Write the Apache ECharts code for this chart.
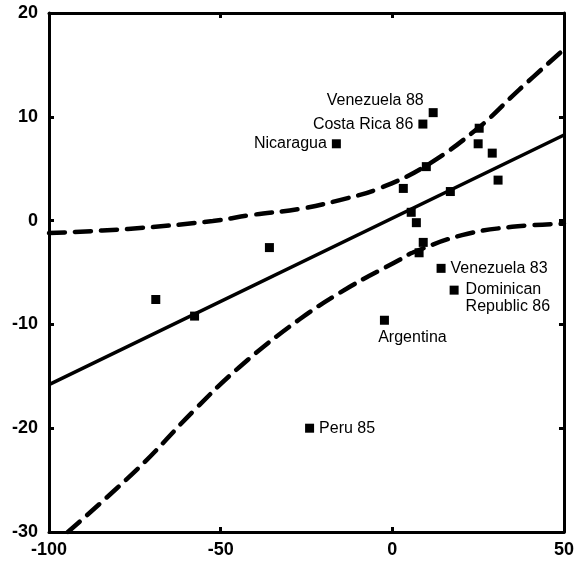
<!DOCTYPE html>
<html>
<head>
<meta charset="utf-8">
<script src="https://cdn.jsdelivr.net/npm/echarts@6/dist/echarts.min.js"></script>
<style>
html,body{margin:0;padding:0;background:#fff;}
#chart{width:577px;height:563px;}
</style>
</head>
<body>
<div id="chart"></div>
<script>
// Scatter points
const pointNames = ['Venezuela 88','Costa Rica 86','Nicaragua','','','','','','','','','','','','Venezuela 83','Dominican\nRepublic 86','Argentina','Peru 85','','',''];
const pointX = [11.9, 8.9, -16.3, 25.3, 25.0, 29.1, 30.8, 9.9, 3.2, 16.9, 5.5, 7.0, 9.0, 7.8, 14.2, 18.0, -2.3, -24.1, -68.9, -57.6, -35.8];
const pointY = [10.4, 9.3, 7.4, 8.9, 7.4, 6.5, 3.9, 5.2, 3.1, 2.8, 0.8, -0.2, -2.1, -3.1, -4.6, -6.7, -9.6, -20.0, -7.6, -9.2, -2.6];

// Regression line
const fitX = [-100, 50];
const fitY = [-15.8, 8.25];

// Upper confidence band
const upperX = [-100, -77, -52.3, -41, -27, -15, -3.8, 9.9, 25.3, 36.9, 50];
const upperY = [-1.2, -0.8, -0.04, 0.54, 1.12, 2.0, 3.1, 5.3, 9.0, 12.6, 16.5];

// Lower confidence band
const lowerX = [-94.5, -73.5, -58.1, -44.5, -27, -12.5, 2.0, 5.8, 20.3, 34.9, 50];
const lowerY = [-30, -23.7, -18.4, -14.1, -9.5, -6.4, -3.8, -3.1, -1.4, -0.6, -0.3];

// Axis ticks
const xTicks = { min: -100, max: 50, interval: 50 };
const yTicks = { min: -30, max: 20, interval: 10 };

const labelPlacement = {
  'Venezuela 88': { position: 'left', offset: [0, -12] },
  'Costa Rica 86': { position: 'left', offset: [0, 1] },
  'Nicaragua': { position: 'left', offset: [0, 0] },
  'Venezuela 83': { position: 'right', offset: [0, 0] },
  'Dominican\nRepublic 86': { position: 'right', offset: [2, 8] },
  'Argentina': { position: 'bottom', offset: [28, -1] },
  'Peru 85': { position: 'right', offset: [0, 0] }
};

const zip = (a, b) => a.map((v, i) => [v, b[i]]);

const scatterData = pointX.map((x, i) => {
  const name = pointNames[i];
  const item = { value: [x, pointY[i]], name: name };
  if (name) {
    const p = labelPlacement[name];
    item.label = { show: true, position: p.position, offset: p.offset, formatter: name };
  }
  return item;
});

const axisCommon = {
  type: 'value',
  axisLine: { show: true, onZero: false, lineStyle: { color: '#000', width: 3 } },
  axisTick: { show: true, inside: true, length: 5, lineStyle: { color: '#000', width: 3 } },
  splitLine: { show: false }
};

const tickLabel = { color: '#000', fontSize: 18, fontWeight: 'bold', fontFamily: 'Liberation Sans, Arial, sans-serif' };

const option = {
  animation: false,
  backgroundColor: '#fff',
  grid: { left: 49, right: 11, top: 13, bottom: 31 },
  xAxis: [
    Object.assign({}, axisCommon, xTicks, { position: 'bottom', axisLabel: Object.assign({ margin: 9 }, tickLabel) }),
    Object.assign({}, axisCommon, xTicks, { position: 'top', axisLabel: { show: false } })
  ],
  yAxis: [
    Object.assign({}, axisCommon, yTicks, { position: 'left', axisLabel: Object.assign({ margin: 11 }, tickLabel) }),
    Object.assign({}, axisCommon, yTicks, { position: 'right', axisLabel: { show: false } })
  ],
  series: [
    {
      type: 'line', data: zip(upperX, upperY), smooth: 0.4, symbol: 'none', clip: true,
      lineStyle: { color: '#000', width: 4.5, type: [16, 10], cap: 'round' }
    },
    {
      type: 'line', data: zip(lowerX, lowerY), smooth: 0.4, symbol: 'none', clip: true,
      lineStyle: { color: '#000', width: 4.5, type: [16, 10], cap: 'round' }
    },
    {
      type: 'line', data: zip(fitX, fitY), symbol: 'none', clip: true,
      lineStyle: { color: '#000', width: 3.5 }
    },
    {
      type: 'scatter', data: scatterData, symbol: 'rect', symbolSize: 9,
      itemStyle: { color: '#000', opacity: 1 },
      label: { color: '#000', fontSize: 16, fontFamily: 'Liberation Sans, Arial, sans-serif', lineHeight: 17, distance: 5 },
      emphasis: { disabled: true },
      z: 5
    }
  ]
};

const chart = echarts.init(document.getElementById('chart'), null, { renderer: 'canvas' });
chart.setOption(option);
</script>
</body>
</html>
